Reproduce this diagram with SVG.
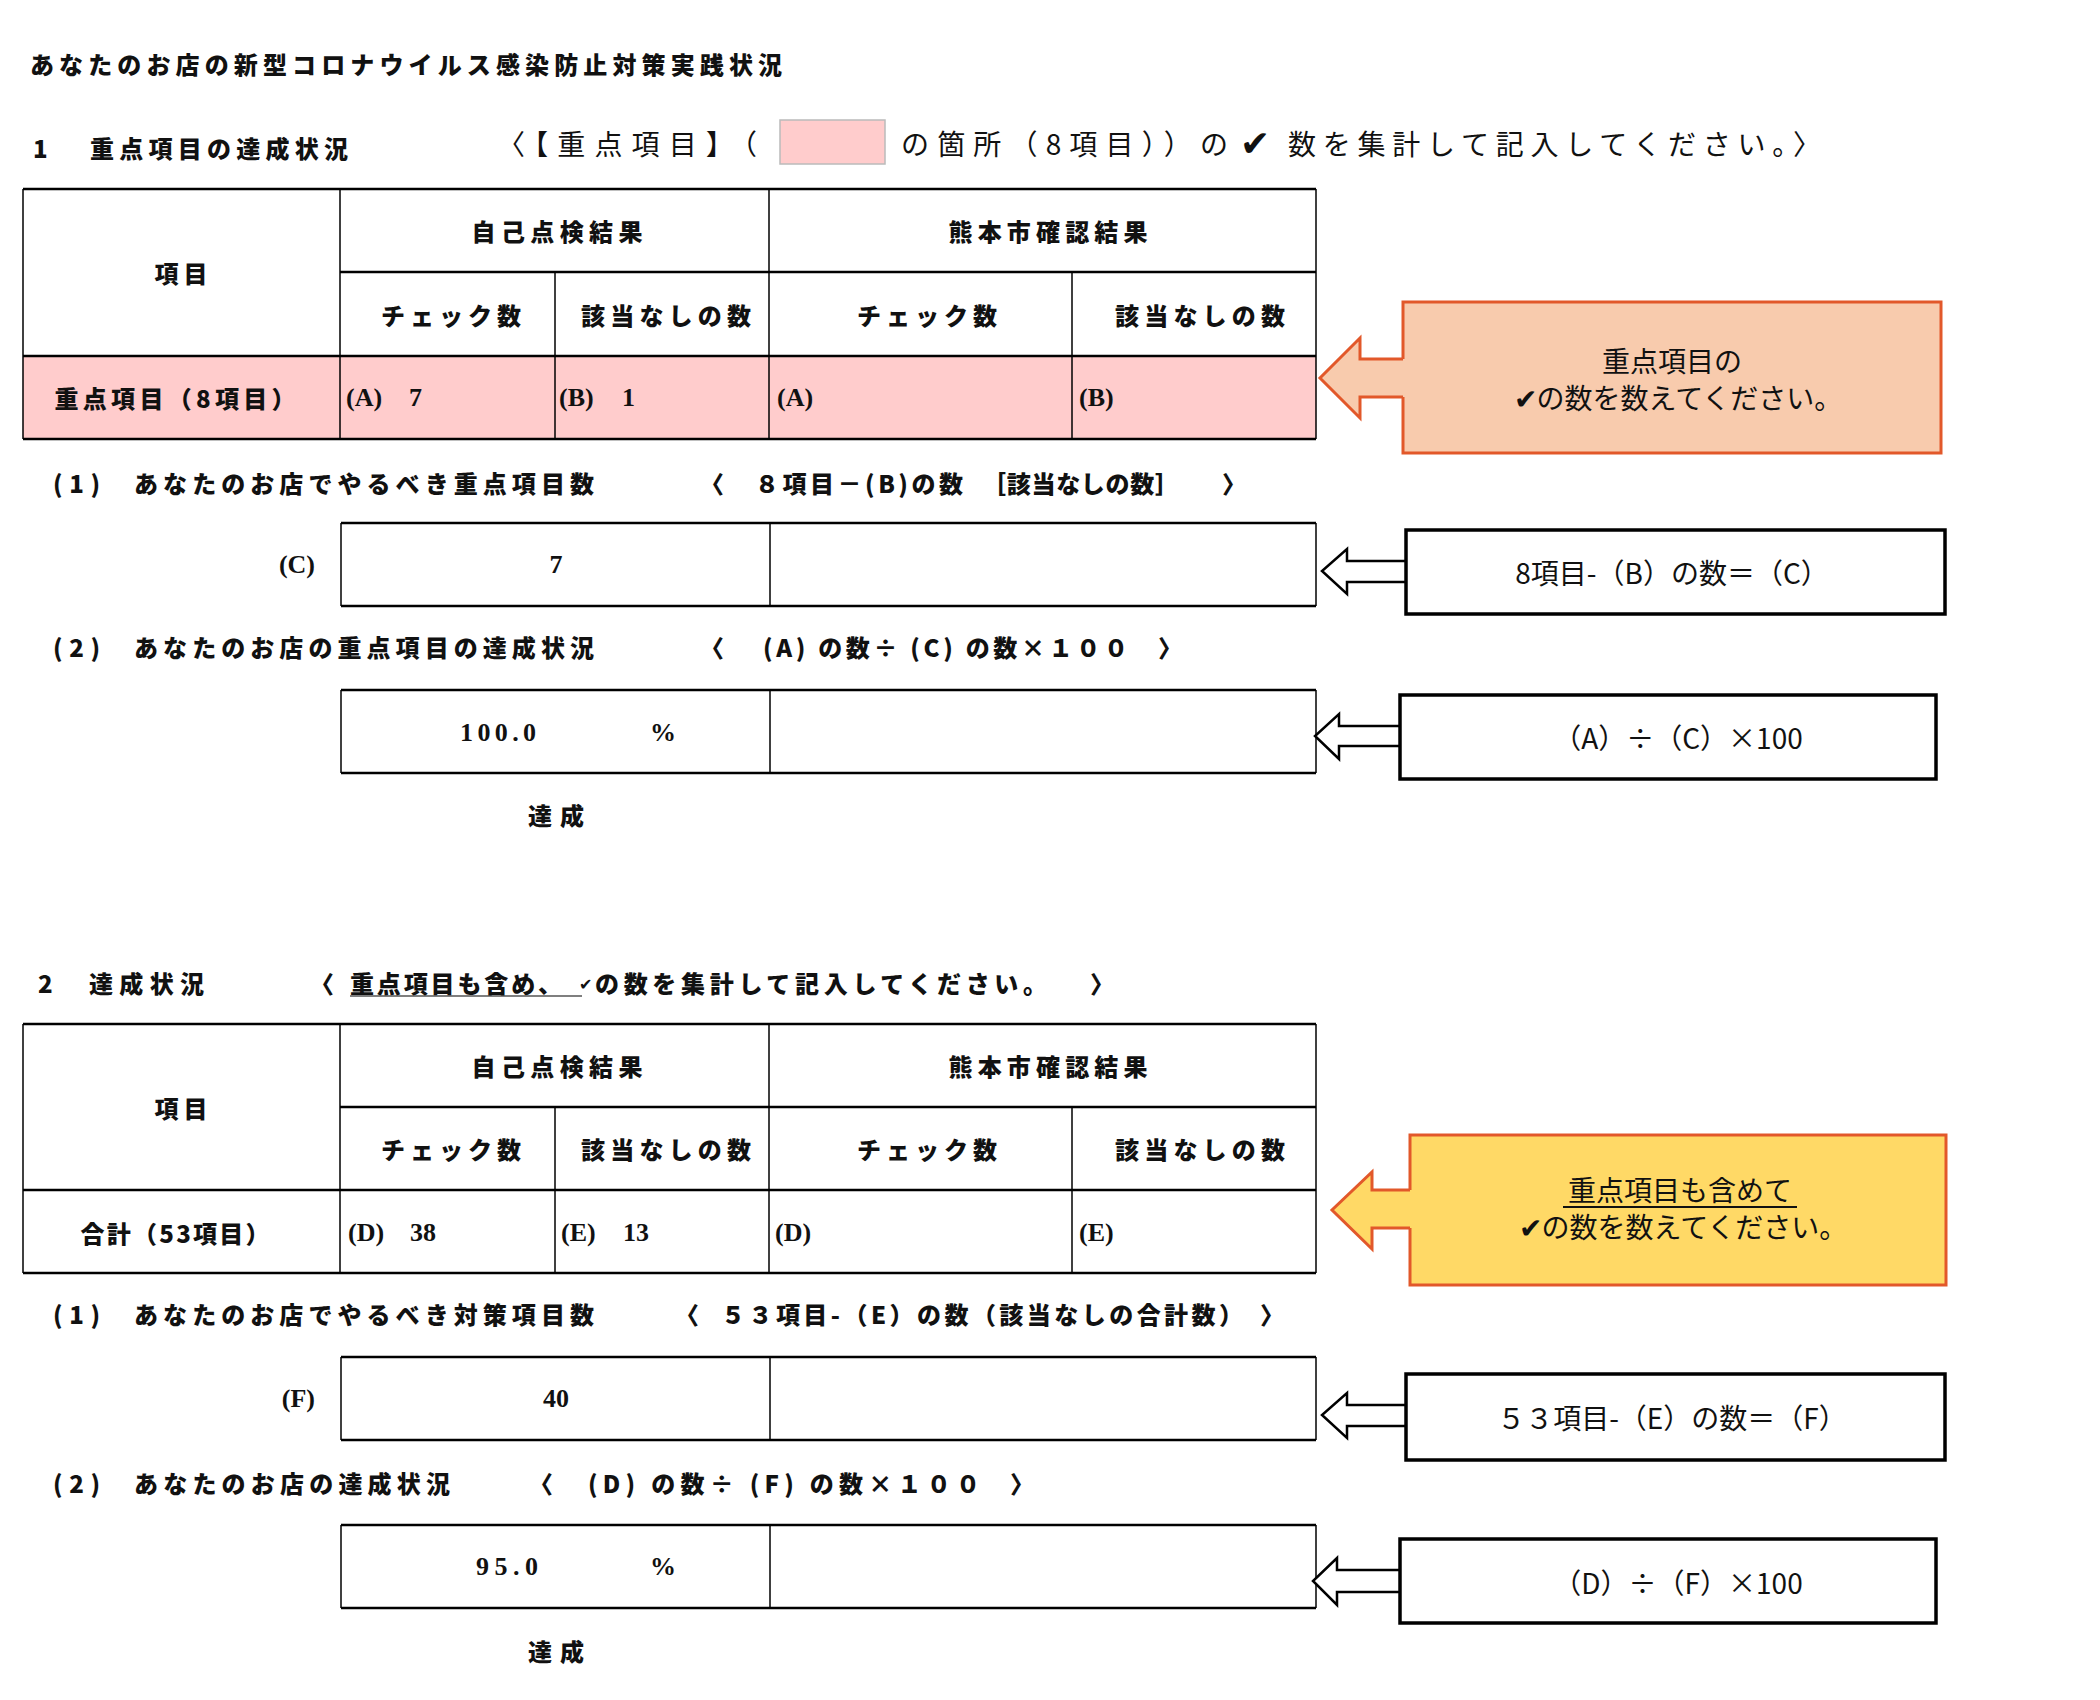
<svg xmlns="http://www.w3.org/2000/svg" width="2100" height="1700" viewBox="0 0 2100 1700">
<style>
text { dominant-baseline: central; fill: #111; }
.b { font-family: "Noto Sans CJK JP", "Noto Sans CJK SC", sans-serif; font-weight: 900; font-size: 24px; }
.m { text-anchor: middle; }
.e { text-anchor: end; }
.s { font-family: "Liberation Serif", "Noto Sans CJK JP", serif; font-weight: 700; font-size: 26px; }
.r { font-family: "Noto Sans CJK JP", sans-serif; font-weight: 400; font-size: 28px; }
.c { font-family: "Noto Sans CJK JP", sans-serif; font-weight: 400; font-size: 28px; }
.ck { font-family: "DejaVu Sans", sans-serif; font-weight: 700; }
.h { stroke: #000; stroke-width: 2.5; }
.v { stroke: #000; stroke-width: 1.5; }
.box { fill: #fff; stroke: #000; stroke-width: 3.5; }
.arr { fill: #fff; stroke: #000; stroke-width: 2.5; stroke-linejoin: miter; }
.org { stroke: #E2582A; stroke-width: 3; stroke-linejoin: miter; }
.pink { fill: #FFCCCC; }
</style>

<rect width="2100" height="1700" fill="#fff"/>

<g id="title">
  <text class="b" x="30" y="63" textLength="752">あなたのお店の新型コロナウイルス感染防止対策実践状況</text>
</g>

<g id="section1-heading">
  <text class="b" x="33" y="147">1</text>
  <text class="b" x="90" y="147" textLength="258">重点項目の達成状況</text>
  <text class="r" x="497" y="143" textLength="260">〈【重点項目】（</text>
  <rect x="780" y="120" width="105" height="44" class="pink" stroke="#BBBBBB" stroke-width="1.5"/>
  <text class="r" x="901" y="143" textLength="327">の箇所（8項目））の</text>
  <text class="ck" x="1240" y="143" font-size="36">✔</text>
  <text class="r" x="1288" y="143" textLength="533">数を集計して記入してください。〉</text>
</g>

<g id="table1">
  <rect x="23" y="356" width="1293" height="83" class="pink"/>
  <line class="h" x1="23" y1="189" x2="1316" y2="189"/>
  <line class="h" x1="340" y1="272" x2="1316" y2="272"/>
  <line class="h" x1="23" y1="356" x2="1316" y2="356"/>
  <line class="h" x1="23" y1="439" x2="1316" y2="439"/>
  <line class="v" x1="23" y1="189" x2="23" y2="439" stroke-width="2"/>
  <line class="v" x1="340" y1="189" x2="340" y2="439"/>
  <line class="v" x1="555" y1="272" x2="555" y2="439"/>
  <line class="v" x1="769" y1="189" x2="769" y2="439"/>
  <line class="v" x1="1072" y1="272" x2="1072" y2="439"/>
  <line class="v" x1="1316" y1="189" x2="1316" y2="439" stroke-width="2"/>
  <text class="b m" x="181" y="272" textLength="53">項目</text>
  <text class="b m" x="557" y="230" textLength="171">自己点検結果</text>
  <text class="b m" x="1048" y="230" textLength="199">熊本市確認結果</text>
  <text class="b m" x="451" y="314" textLength="140">チェック数</text>
  <text class="b m" x="666" y="314" textLength="170">該当なしの数</text>
  <text class="b m" x="927" y="314" textLength="140">チェック数</text>
  <text class="b m" x="1200" y="314" textLength="170">該当なしの数</text>
  <text class="b m" x="175" y="397" textLength="241">重点項目（8項目）</text>
  <text class="s" x="346" y="397">(A)</text>
  <text class="s" x="409" y="397">7</text>
  <text class="s" x="559" y="397">(B)</text>
  <text class="s" x="622" y="397">1</text>
  <text class="s" x="777" y="397">(A)</text>
  <text class="s" x="1079" y="397">(B)</text>
</g>

<g id="s1-row1-label">
  <text class="b" x="53" y="482" textLength="47">(1)</text>
  <text class="b" x="134" y="482" textLength="460">あなたのお店でやるべき重点項目数</text>
  <text class="b" x="700" y="482">〈</text>
  <text class="b" x="755" y="482" textLength="208">８項目－(B)の数</text>
  <text class="b" x="982" y="482" textLength="197">［該当なしの数］</text>
  <text class="b" x="1222" y="482">〉</text>
</g>

<g id="box-c">
  <line class="h" x1="341" y1="523" x2="1316" y2="523"/>
  <line class="h" x1="341" y1="606" x2="1316" y2="606"/>
  <line class="v" x1="341" y1="523" x2="341" y2="606"/>
  <line class="v" x1="770" y1="523" x2="770" y2="606"/>
  <line class="v" x1="1316" y1="523" x2="1316" y2="606" stroke-width="2"/>
  <text class="s e" x="315" y="564">(C)</text>
  <text class="s m" x="556" y="564">7</text>
</g>

<g id="s1-row2-label">
  <text class="b" x="53" y="646" textLength="47">(2)</text>
  <text class="b" x="134" y="646" textLength="460">あなたのお店の重点項目の達成状況</text>
  <text class="b" x="700" y="646">〈</text>
  <text class="b" x="763" y="646" textLength="365">(A) の数÷ (C) の数×１００</text>
  <text class="b" x="1158" y="646">〉</text>
</g>

<g id="box-rate1">
  <line class="h" x1="341" y1="690" x2="1316" y2="690"/>
  <line class="h" x1="341" y1="773" x2="1316" y2="773"/>
  <line class="v" x1="341" y1="690" x2="341" y2="773"/>
  <line class="v" x1="770" y1="690" x2="770" y2="773"/>
  <line class="v" x1="1316" y1="690" x2="1316" y2="773" stroke-width="2"/>
  <text class="s m" x="498" y="732" textLength="76">100.0</text>
  <text class="s m" x="663" y="732">%</text>
  <text class="b m" x="556" y="814" textLength="56">達成</text>
</g>

<g id="section2-heading">
  <text class="b" x="38" y="982">2</text>
  <text class="b" x="89" y="982" textLength="115">達成状況</text>
  <text class="b" x="310" y="982">〈</text>
  <text class="b" x="350" y="982" textLength="212">重点項目も含め、</text>
  <text class="ck" x="579" y="984" font-size="16">✔</text>
  <text class="b" x="595" y="982" textLength="452">の数を集計して記入してください。</text>
  <text class="b" x="1090" y="982">〉</text>
  <line x1="350" y1="996" x2="582" y2="996" stroke="#555" stroke-width="1.3"/>
</g>

<g id="table2">
  <line class="h" x1="23" y1="1024" x2="1316" y2="1024"/>
  <line class="h" x1="340" y1="1107" x2="1316" y2="1107"/>
  <line class="h" x1="23" y1="1190" x2="1316" y2="1190"/>
  <line class="h" x1="23" y1="1273" x2="1316" y2="1273"/>
  <line class="v" x1="23" y1="1024" x2="23" y2="1273" stroke-width="2"/>
  <line class="v" x1="340" y1="1024" x2="340" y2="1273"/>
  <line class="v" x1="555" y1="1107" x2="555" y2="1273"/>
  <line class="v" x1="769" y1="1024" x2="769" y2="1273"/>
  <line class="v" x1="1072" y1="1107" x2="1072" y2="1273"/>
  <line class="v" x1="1316" y1="1024" x2="1316" y2="1273" stroke-width="2"/>
  <text class="b m" x="181" y="1107" textLength="53">項目</text>
  <text class="b m" x="557" y="1065" textLength="171">自己点検結果</text>
  <text class="b m" x="1048" y="1065" textLength="199">熊本市確認結果</text>
  <text class="b m" x="451" y="1148" textLength="140">チェック数</text>
  <text class="b m" x="666" y="1148" textLength="170">該当なしの数</text>
  <text class="b m" x="927" y="1148" textLength="140">チェック数</text>
  <text class="b m" x="1200" y="1148" textLength="170">該当なしの数</text>
  <text class="b m" x="175" y="1232" textLength="189">合計（53項目）</text>
  <text class="s" x="348" y="1232">(D)</text>
  <text class="s" x="410" y="1232">38</text>
  <text class="s" x="561" y="1232">(E)</text>
  <text class="s" x="623" y="1232">13</text>
  <text class="s" x="775" y="1232">(D)</text>
  <text class="s" x="1079" y="1232">(E)</text>
</g>

<g id="s2-row1-label">
  <text class="b" x="53" y="1313" textLength="47">(1)</text>
  <text class="b" x="134" y="1313" textLength="460">あなたのお店でやるべき対策項目数</text>
  <text class="b" x="675" y="1313">〈</text>
  <text class="b" x="721" y="1313" textLength="522">５３項目-（E）の数（該当なしの合計数）</text>
  <text class="b" x="1260" y="1313">〉</text>
</g>

<g id="box-f">
  <line class="h" x1="341" y1="1357" x2="1316" y2="1357"/>
  <line class="h" x1="341" y1="1440" x2="1316" y2="1440"/>
  <line class="v" x1="341" y1="1357" x2="341" y2="1440"/>
  <line class="v" x1="770" y1="1357" x2="770" y2="1440"/>
  <line class="v" x1="1316" y1="1357" x2="1316" y2="1440" stroke-width="2"/>
  <text class="s e" x="315" y="1398">(F)</text>
  <text class="s m" x="556" y="1398">40</text>
</g>

<g id="s2-row2-label">
  <text class="b" x="53" y="1482" textLength="47">(2)</text>
  <text class="b" x="134" y="1482" textLength="316">あなたのお店の達成状況</text>
  <text class="b" x="529" y="1482">〈</text>
  <text class="b" x="588" y="1482" textLength="392">(D) の数÷ (F) の数×１００</text>
  <text class="b" x="1010" y="1482">〉</text>
</g>

<g id="box-rate2">
  <line class="h" x1="341" y1="1525" x2="1316" y2="1525"/>
  <line class="h" x1="341" y1="1608" x2="1316" y2="1608"/>
  <line class="v" x1="341" y1="1525" x2="341" y2="1608"/>
  <line class="v" x1="770" y1="1525" x2="770" y2="1608"/>
  <line class="v" x1="1316" y1="1525" x2="1316" y2="1608" stroke-width="2"/>
  <text class="s m" x="507" y="1566" textLength="62">95.0</text>
  <text class="s m" x="663" y="1566">%</text>
  <text class="b m" x="556" y="1650" textLength="56">達成</text>
</g>

<g id="connectors">
  <path class="org" fill="#F8CBAD" d="M1405,359 H1360 V338 L1320,378 L1360,418 V397 H1405"/>
  <path class="arr" d="M1408,561 H1347 V549 L1322,571 L1347,594 V582 H1408"/>
  <path class="arr" d="M1402,726 H1339 V714 L1315,736 L1339,759 V746 H1402"/>
  <path class="org" fill="#FFD966" d="M1412,1190 H1372 V1172 L1332,1210 L1372,1249 V1228 H1412"/>
  <path class="arr" d="M1408,1405 H1347 V1393 L1322,1415 L1347,1438 V1426 H1408"/>
  <path class="arr" d="M1402,1570 H1337 V1558 L1313,1581 L1337,1605 V1592 H1402"/>
</g>

<g id="callout1">
  <path class="org" fill="#F8CBAD" d="M1403,359 V302 H1941 V453 H1403 V397"/>
  <text class="c m" x="1672" y="360">重点項目の</text>
  <text class="c m" x="1678" y="397">✔の数を数えてください。</text>
</g>

<g id="callout2">
  <rect class="box" x="1406" y="530" width="539" height="84"/>
  <text class="c m" x="1672" y="572">8項目-（B）の数＝（C）</text>
</g>

<g id="callout3">
  <rect class="box" x="1400" y="695" width="536" height="84"/>
  <text class="c m" x="1678" y="737" font-size="26">（A）÷（C）×100</text>
</g>

<g id="callout4">
  <path class="org" fill="#FFD966" d="M1410,1190 V1135 H1946 V1285 H1410 V1228"/>
  <text class="c m" x="1680" y="1189">重点項目も含めて</text>
  <line x1="1563" y1="1207" x2="1797" y2="1207" stroke="#111" stroke-width="2"/>
  <text class="c m" x="1683" y="1226">✔の数を数えてください。</text>
</g>

<g id="callout5">
  <rect class="box" x="1406" y="1374" width="539" height="86"/>
  <text class="c m" x="1672" y="1417">５３項目-（E）の数＝（F）</text>
</g>

<g id="callout6">
  <rect class="box" x="1400" y="1539" width="536" height="84"/>
  <text class="c m" x="1678" y="1582" font-size="26">（D）÷（F）×100</text>
</g>
</svg>
